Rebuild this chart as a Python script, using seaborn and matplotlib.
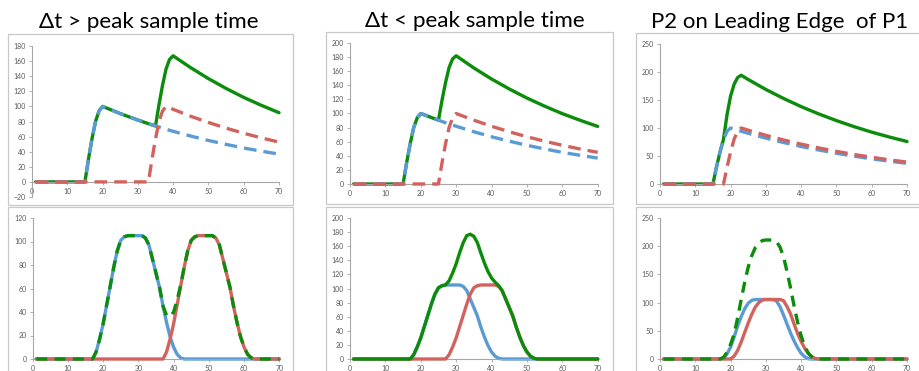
import matplotlib
matplotlib.use("Agg")
import matplotlib.pyplot as plt
import seaborn as sns
import pandas as pd
from matplotlib.patches import Rectangle

# ---------------- data ----------------
titles = ["\u0394t > peak sample time", "\u0394t < peak sample time", "P2 on Leading Edge  of P1"]

# top row: pulse heights
x1_top = [1, 5, 10, 15, 16, 17, 18, 19, 20, 25, 30, 33, 34, 35, 36, 37, 38, 39, 40, 45, 50, 55, 60, 65, 70]
blue1_top = [0, 0, 0, 0, 30, 57, 80, 94, 100, 90.5, 81.9, 77.1, 75.6, 74.1, 72.6, 71.2, 69.8, 68.4, 67.0,
             60.7, 54.9, 49.7, 44.9, 40.7, 36.8]
red1_top = [0, 0, 0, 0, 0, 0, 0, 0, 0, 0, 0, 0, 30, 57, 80, 94, 100, 98.0, 96.1,
            86.9, 78.7, 71.2, 64.4, 58.3, 52.7]
green1_top = [0, 0, 0, 0, 30, 57, 80, 94, 100, 90.5, 81.9, 77.1, 75.6, 74.1, 102.6, 128.2, 149.8, 162.4, 167.0,
              151.2, 136.8, 123.8, 111.9, 101.4, 91.7]

x2_top = [1, 5, 10, 15, 16, 17, 18, 19, 20, 25, 26, 27, 28, 29, 30, 35, 40, 45, 50, 55, 60, 65, 70]
blue2_top = [0, 0, 0, 0, 30, 57, 80, 94, 100, 90.5, 88.7, 86.9, 85.2, 83.5, 81.9,
             74.1, 67.0, 60.7, 54.9, 49.7, 44.9, 40.7, 36.8]
red2_top = [0, 0, 0, 0, 0, 0, 0, 0, 0, 0, 30, 57, 80, 94, 100,
            90.5, 81.9, 74.1, 67.0, 60.7, 54.9, 49.7, 44.9]
green2_top = [0, 0, 0, 0, 30, 57, 80, 94, 100, 90.5, 118.7, 143.9, 165.2, 177.5, 181.9,
              164.6, 148.9, 134.8, 121.9, 110.4, 99.8, 90.4, 81.7]

x3_top = [1, 5, 10, 15, 16, 17, 18, 19, 20, 21, 22, 23, 25, 30, 35, 40, 45, 50, 55, 60, 65, 70]
blue3_top = [0, 0, 0, 0, 30, 57, 80, 94, 100, 98.0, 96.1, 94.2,
             90.5, 81.9, 74.1, 67.0, 60.7, 54.9, 49.7, 44.9, 40.7, 36.8]
red3_top = [0, 0, 0, 0, 0, 0, 0, 30, 57, 80, 94, 100,
            96.1, 86.9, 78.7, 71.2, 64.4, 58.3, 52.7, 47.7, 43.2, 39.1]
green3_top = [0, 0, 0, 0, 30, 57, 80, 124, 157, 178, 190.1, 194.2,
              186.6, 168.8, 152.8, 138.2, 125.1, 113.2, 102.4, 92.6, 83.9, 75.9]

# bottom row: shaped pulses
x1_bot = [1, 5, 10, 15, 16, 17, 18, 19, 20, 21, 22, 23, 24, 25, 26, 27, 28, 29, 30, 31, 32, 33, 34, 35,
          36, 37, 38, 39, 40, 41, 42, 43, 44, 45, 46, 47, 48, 49, 50, 51, 52, 53, 54, 55, 56, 57, 58, 59,
          60, 61, 62, 63, 65, 70]
blue1_bot = [0, 0, 0, 0, 0, 0, 6, 17, 30, 46, 62, 78, 92, 101, 104, 105, 105, 105, 105, 105, 103, 97, 85, 73,
             61, 45, 31, 19, 10, 4, 1, 0, 0, 0, 0, 0, 0, 0, 0, 0, 0, 0, 0, 0, 0, 0, 0, 0,
             0, 0, 0, 0, 0, 0]
red1_bot = [0, 0, 0, 0, 0, 0, 0, 0, 0, 0, 0, 0, 0, 0, 0, 0, 0, 0, 0, 0, 0, 0, 0, 0,
            0, 0, 6, 17, 30, 46, 62, 78, 92, 101, 104, 105, 105, 105, 105, 105, 103, 97, 85, 73, 61, 45, 31, 19,
            10, 4, 1, 0, 0, 0]
green1_bot = [0, 0, 0, 0, 0, 0, 6, 17, 30, 46, 62, 78, 92, 101, 104, 105, 105, 105, 105, 105, 103, 97, 85, 73,
              61, 45, 37, 36, 40, 50, 63, 78, 92, 101, 104, 105, 105, 105, 105, 105, 103, 97, 85, 73, 61, 45, 31, 19,
              10, 4, 1, 0, 0, 0]

x2_bot = [1, 5, 10, 15, 16, 17, 18, 19, 20, 21, 22, 23, 24, 25, 26, 27, 28, 29, 30, 31, 32, 33, 34, 35,
          36, 37, 38, 39, 40, 41, 42, 43, 44, 45, 46, 47, 48, 49, 50, 51, 52, 53, 55, 60, 65, 70]
blue2_bot = [0, 0, 0, 0, 0, 0, 6, 17, 30, 46, 62, 78, 92, 101, 104, 105, 105, 105, 105, 105, 103, 97, 85, 73,
             61, 45, 31, 19, 10, 4, 1, 0, 0, 0, 0, 0, 0, 0, 0, 0, 0, 0, 0, 0, 0, 0]
red2_bot = [0, 0, 0, 0, 0, 0, 0, 0, 0, 0, 0, 0, 0, 0, 0, 0, 6, 17, 30, 46, 62, 78, 92, 101,
            104, 105, 105, 105, 105, 105, 103, 97, 85, 73, 61, 45, 31, 19, 10, 4, 1, 0, 0, 0, 0, 0]
green2_bot = [0, 0, 0, 0, 0, 0, 6, 17, 30, 46, 62, 78, 92, 101, 104, 105, 111, 122, 135, 151, 165, 175, 177, 174,
              165, 150, 136, 124, 115, 109, 104, 97, 85, 73, 61, 45, 31, 19, 10, 4, 1, 0, 0, 0, 0, 0]

x3_bot = [1, 5, 10, 15, 16, 17, 18, 19, 20, 21, 22, 23, 24, 25, 26, 27, 28, 29, 30, 31, 32, 33, 34, 35,
          36, 37, 38, 39, 40, 41, 42, 43, 44, 45, 46, 50, 55, 60, 65, 70]
blue3_bot = [0, 0, 0, 0, 0, 0, 2, 9, 21, 39, 58, 75, 89, 99, 104, 105.5, 105.5, 105.5, 105.5, 105.5, 105.5, 103, 93, 78,
             62, 46, 32, 20, 10, 4, 0.5, 0, 0, 0, 0, 0, 0, 0, 0, 0]
red3_bot = [0, 0, 0, 0, 0, 0, 0, 0, 0, 5, 15, 30, 47, 64, 79, 92, 100, 104.5, 105.5, 105.5, 105.5, 105.5, 105.5, 103.5,
            93, 80, 62, 45, 31, 19, 10, 4, 1, 0, 0, 0, 0, 0, 0, 0]
green3_bot = [0, 0, 0, 0, 0, 0, 3, 12, 26, 44, 73, 105, 136, 163, 183, 197.5, 205.5, 210, 211, 211, 211, 208.5, 198.5, 181.5,
              155, 126, 94, 65, 41, 23, 10.5, 4, 1, 0, 0, 0, 0, 0, 0, 0]

for xs, *ys in [(x1_top, blue1_top, red1_top, green1_top), (x2_top, blue2_top, red2_top, green2_top),
                (x3_top, blue3_top, red3_top, green3_top), (x1_bot, blue1_bot, red1_bot, green1_bot),
                (x2_bot, blue2_bot, red2_bot, green2_bot), (x3_bot, blue3_bot, red3_bot, green3_bot)]:
    for y in ys:
        assert len(y) == len(xs), (len(xs), len(y))

# ---------------- style ----------------
sns.set_theme(style="white")
plt.rcParams["font.family"] = ["Lato", "DejaVu Sans"]

BLUE = "#5b9bd5"
RED = "#d2625d"
GREEN = "#0b8c0b"
AXC = "#a6a6a6"
LW = 2.4

W, H = 920, 371
fig = plt.figure(figsize=(W / 100, H / 100), dpi=100)
fig.patch.set_facecolor("white")


def fx(px):
    return px / W


def fy(py):
    return 1 - py / H


def add_ax(l, r, t, b):
    return fig.add_axes([fx(l), fy(b), (r - l) / W, (b - t) / H])


def border(x0, x1, y0, y1):
    fig.add_artist(Rectangle((fx(x0), fy(y1)), (x1 - x0) / W, (y1 - y0) / H,
                             transform=fig.transFigure, fill=False,
                             edgecolor="#c8c8c8", linewidth=0.9))


# chart-area borders
border(8, 293, 34, 205)
border(8, 293, 207, 400)
border(326, 613, 32, 204)
border(326, 613, 207, 400)
border(636, 940, 33, 204)
border(636, 940, 207, 400)

DASH_TOP = (0, (3.8, 2.1))
DASH_BOT = (0, (3.3, 2.2))


def line(ax, x, y, color, ls="-", z=2):
    df = pd.DataFrame({"x": x, "y": y})
    sns.lineplot(data=df, x="x", y="y", ax=ax, color=color, linewidth=LW, linestyle=ls,
                 estimator=None, sort=False, legend=False, zorder=z, clip_on=False)


def style_ax(ax, ylim, ystep, zero_axis=False):
    ax.set_xlim(0, 70)
    ax.set_ylim(*ylim)
    ax.set_xticks(range(0, 71, 10))
    ax.set_yticks(range(ylim[0], ylim[1] + 1, ystep))
    ax.set_xlabel("")
    ax.set_ylabel("")
    ax.set_facecolor("none")
    for s in ["top", "right"]:
        ax.spines[s].set_visible(False)
    for s in ["left", "bottom"]:
        ax.spines[s].set_color(AXC)
        ax.spines[s].set_linewidth(0.8)
    if zero_axis:
        ax.spines["bottom"].set_position(("data", 0))
    ax.tick_params(axis="both", which="both", bottom=True, left=True, length=2.5, width=0.6,
                   color=AXC, labelsize=5, labelcolor="#595959", pad=1.8, direction="out")


# top row
ax = add_ax(32, 279, 46, 197)
line(ax, x1_top, green1_top, GREEN, "-", 2)
line(ax, x1_top, blue1_top, BLUE, DASH_TOP, 3)
line(ax, x1_top, red1_top, RED, DASH_TOP, 4)
style_ax(ax, (-20, 180), 20, zero_axis=True)

ax = add_ax(350, 597.7, 43, 184)
line(ax, x2_top, green2_top, GREEN, "-", 2)
line(ax, x2_top, blue2_top, BLUE, DASH_TOP, 3)
line(ax, x2_top, red2_top, RED, DASH_TOP, 4)
style_ax(ax, (0, 200), 20)

ax = add_ax(660, 907, 44, 184)
line(ax, x3_top, green3_top, GREEN, "-", 2)
line(ax, x3_top, blue3_top, BLUE, DASH_TOP, 3)
line(ax, x3_top, red3_top, RED, DASH_TOP, 4)
style_ax(ax, (0, 250), 50)

# bottom row
ax = add_ax(32.7, 279.3, 218, 359)
line(ax, x1_bot, blue1_bot, BLUE, "-", 2)
line(ax, x1_bot, red1_bot, RED, "-", 3)
line(ax, x1_bot, green1_bot, GREEN, DASH_BOT, 4)
style_ax(ax, (0, 120), 20)

ax = add_ax(350, 597.7, 218, 359)
line(ax, x2_bot, blue2_bot, BLUE, "-", 2)
line(ax, x2_bot, red2_bot, RED, "-", 3)
line(ax, x2_bot, green2_bot, GREEN, "-", 4)
style_ax(ax, (0, 200), 20)

ax = add_ax(660, 907, 218, 359)
line(ax, x3_bot, blue3_bot, BLUE, "-", 2)
line(ax, x3_bot, red3_bot, RED, "-", 3)
line(ax, x3_bot, green3_bot, GREEN, DASH_BOT, 4)
style_ax(ax, (0, 250), 50)

# titles
fig.text(fx(149), fy(28), titles[0], ha="center", va="baseline", fontsize=16.2, color="black")
fig.text(fx(474.5), fy(26.7), titles[1], ha="center", va="baseline", fontsize=16.2, color="black")
fig.text(fx(780), fy(28), titles[2], ha="center", va="baseline", fontsize=16.0, color="black")

fig.savefig("out.png", dpi=100, facecolor="white")
